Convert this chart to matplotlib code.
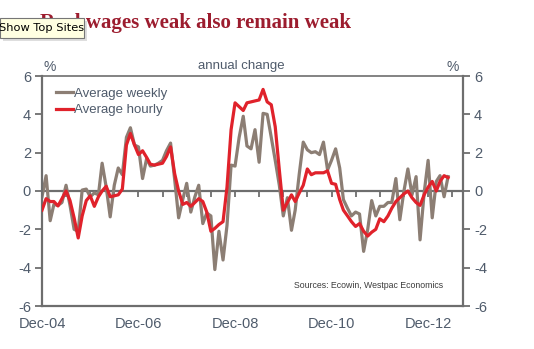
import matplotlib
matplotlib.use("Agg")
import matplotlib.pyplot as plt
from matplotlib import markers
from matplotlib.patches import FancyBboxPatch
import pandas as pd
import numpy as np

# Monthly annual % change, Dec 2004 onwards
start_month = "2004-12-01"
avg_weekly = [
    -0.3, 0.8, -1.55, -0.7, -0.75, -0.6, 0.3, -0.75, -2.0, -2.1,
    0.05, 0.1, -0.3, -0.1, -0.2, 1.45, 0.2, -1.35, 0.3, 1.2,
    0.85, 2.8, 3.3, 2.4, 2.3, 0.65, 1.7, 1.3, 1.35, 1.45,
    1.6, 2.1, 2.5, 0.6, -1.4, -0.45, 0.4, -1.1, -0.3, 0.3,
    -1.7, -1.15, -1.3, -4.1, -2.1, -3.6, -1.8, 1.35, 1.3, 2.8,
    3.9, 2.35, 2.2, 3.2, 1.5, 4.05, 4.0, 2.8, 1.6, 0.3,
    -1.3, -0.35, -2.05, -1.0, 0.9, 2.55, 2.15, 2.0, 2.05, 1.9,
    2.55, 1.1, 1.6, 2.2, 1.2, -0.45, -0.9, -1.3, -1.1, -1.2,
    -3.15, -2.0, -0.5, -1.3, -0.8, -0.8, -0.6, -0.6, 0.65, -1.5,
    0.0, 1.15, -0.2, 0.75, -2.55, -0.1, 1.6, -1.4, 0.5, 0.8,
    -0.3, 0.75,
]
avg_hourly = [
    -1.0, -0.4, -0.55, -0.55, -0.78, -0.4, 0.0, -0.5, -1.4, -2.45,
    -1.3, -0.5, -0.25, -0.8, -0.3, 0.0, 0.25, -0.3, -0.25, -0.2,
    0.1, 2.4, 3.0, 2.4, 1.9, 2.1, 1.75, 1.4, 1.35, 1.4,
    1.45, 1.8, 2.3, 0.9, 0.0, -0.7, -0.6, -0.8, -0.6, -0.4,
    -0.55, -1.1, -2.1, -1.95, -1.75, -1.6, 0.2, 3.2, 4.6, 4.4,
    4.2, 4.6, 4.65, 4.7, 4.75, 5.3, 4.65, 4.5, 3.35, 1.1,
    -1.0, -0.6, -0.2, -0.55, -0.1, 0.3, 1.15, 0.85, 0.95, 0.95,
    0.95, 1.05, 0.4, 0.35, -0.45, -1.0, -1.3, -1.6, -1.85, -1.7,
    -2.1, -2.35, -2.15, -2.0, -1.45, -1.6, -1.3, -0.9, -0.55, -0.35,
    -0.15, 0.0, -0.35, -0.6, -0.75, -0.2, 0.2, 0.5, 0.0, 0.5,
    0.8, 0.7,
]
series_names = ["Average weekly", "Average hourly"]
yticks = [-6, -4, -2, 0, 2, 4, 6]

dates = pd.date_range(start_month, periods=len(avg_weekly), freq="MS")

GREY_LINE = "#8c7e74"
RED_LINE = "#e0222b"
AXIS = "#6e6e6e"
LABEL = "#4f5b6b"
FONT = "Liberation Sans"

fig = plt.figure(figsize=(5.34, 3.49), dpi=100)
ax = fig.add_axes([42 / 534, 1 - 306 / 349, (463 - 42) / 534, (306 - 76) / 349])

ax.axhline(0, color=AXIS, lw=1.6, zorder=1)
# small tick marks hanging below the zero line, every six months
zero_ticks = pd.date_range("2005-06-01", "2013-06-01", freq="6MS")
ax.plot(zero_ticks, np.zeros(len(zero_ticks)), linestyle="none",
        marker=markers.TICKDOWN, ms=4, mew=1.3, color=AXIS, zorder=1)

ax.plot(dates, avg_weekly, color=GREY_LINE, lw=2.3, label=series_names[0], zorder=2)
ax.plot(dates, avg_hourly, color=RED_LINE, lw=2.3, label=series_names[1], zorder=3)

ax.set_ylim(-6, 6)
ax.set_xlim(pd.Timestamp("2004-12-01"), pd.Timestamp("2013-08-22"))
ax.set_yticks(yticks)
ax.set_yticklabels([str(v) for v in yticks])
xt = pd.date_range("2004-12-01", "2012-12-01", freq="24MS")
ax.set_xticks(xt)
ax.set_xticklabels([d.strftime("%b-%y") for d in xt])

ax.tick_params(axis="x", length=0, pad=8, labelsize=10.5, labelcolor=LABEL)
ax.tick_params(axis="y", length=5, width=1.3, color=AXIS, pad=3,
               labelsize=10.5, labelcolor=LABEL, direction="out")
for lab in ax.get_xticklabels() + ax.get_yticklabels():
    lab.set_fontfamily(FONT)

for side, sp in ax.spines.items():
    sp.set_color(AXIS)
    sp.set_linewidth(1.6 if side != "top" else 1.2)

ax2 = ax.twinx()
ax2.set_ylim(-6, 6)
ax2.set_yticks(yticks)
ax2.set_yticklabels([str(v) for v in yticks])
ax2.tick_params(axis="y", length=5, width=1.3, color=AXIS, pad=3,
                labelsize=10.5, labelcolor=LABEL, direction="out")
for lab in ax2.get_yticklabels():
    lab.set_fontfamily(FONT)
for sp in ax2.spines.values():
    sp.set_visible(False)

leg = ax.legend(loc="upper left", bbox_to_anchor=(0.005, 1.0), frameon=False,
                handlelength=1.3, handletextpad=0.1, labelspacing=0.3,
                prop={"family": FONT, "size": 9.5})
for t in leg.get_texts():
    t.set_color(LABEL)

fig.text(50 / 534, 1 - 67 / 349, "%", ha="center", va="center",
         fontsize=10, color=LABEL, family=FONT)
fig.text(453 / 534, 1 - 67 / 349, "%", ha="center", va="center",
         fontsize=10, color=LABEL, family=FONT)
fig.text(241 / 534, 1 - 66 / 349, "annual change", ha="center", va="center",
         fontsize=9.5, color=LABEL, family=FONT)
fig.text(443 / 534, 1 - 286 / 349, "Sources: Ecowin, Westpac Economics",
         ha="right", va="center", fontsize=6.3, color="#3c3c3c", family=FONT)

fig.text(40 / 534, 1 - 28 / 349, "Real wages weak also remain weak",
         ha="left", va="baseline", fontsize=15, fontweight="bold",
         color="#9c1c2e", family="Liberation Serif")

# browser tooltip sitting over the heading
shadow = FancyBboxPatch((3 / 534, 1 - 41 / 349), 84 / 534, 20 / 349,
                        boxstyle="square,pad=0", transform=fig.transFigure,
                        facecolor="#c8c8c8", edgecolor="none", alpha=0.6, zorder=9)
box = FancyBboxPatch((0, 1 - 38 / 349), 84 / 534, 20 / 349,
                     boxstyle="square,pad=0", transform=fig.transFigure,
                     facecolor="#ffffe1", edgecolor="#767676", lw=0.8, zorder=10)
fig.add_artist(shadow)
fig.add_artist(box)
fig.text(42 / 534, 1 - 28 / 349, "Show Top Sites", ha="center", va="center",
         fontsize=8.2, color="#000000", family="DejaVu Sans", zorder=11)

fig.savefig("out.png", dpi=100)
